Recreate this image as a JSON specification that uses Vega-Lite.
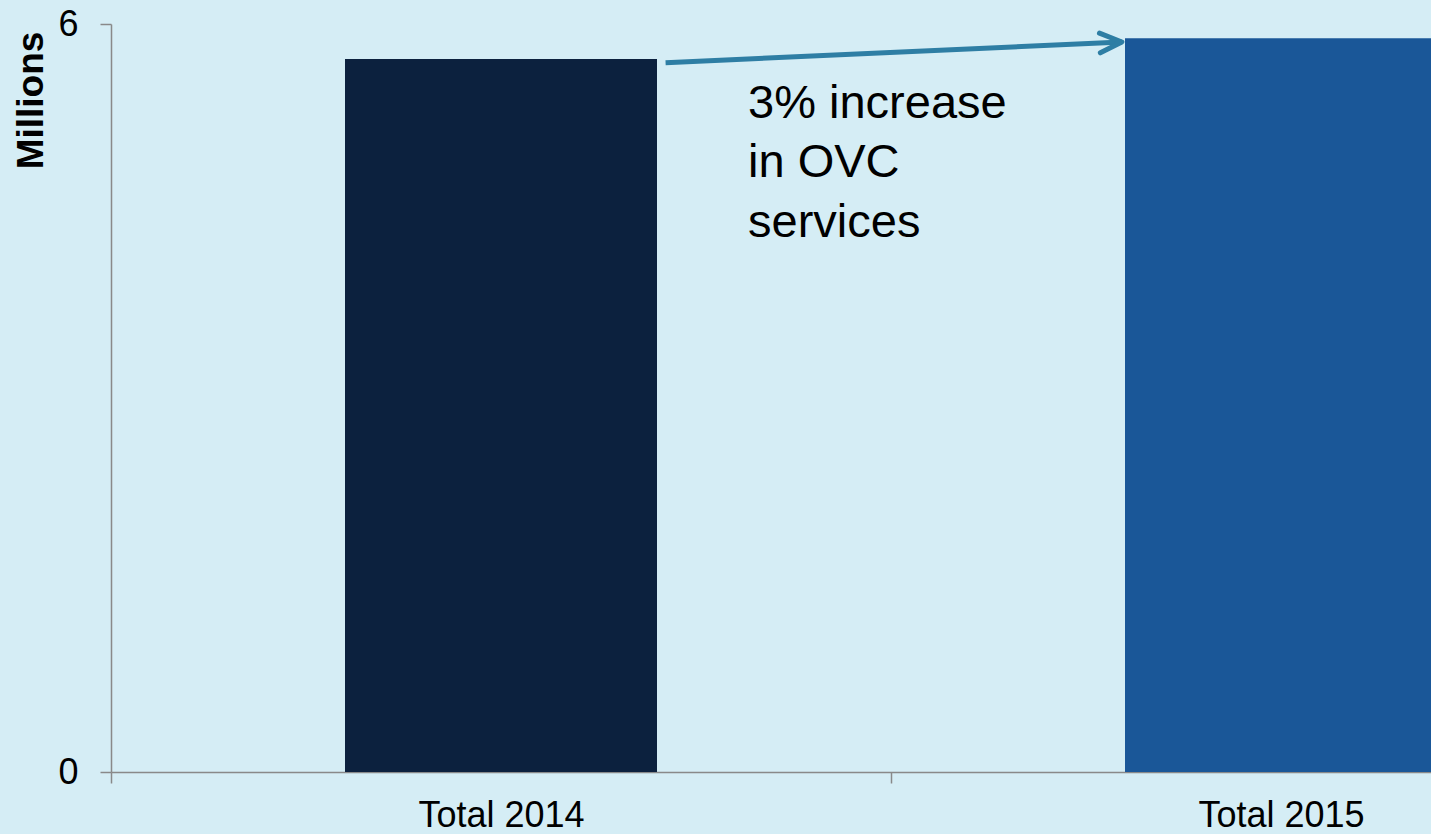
{
  "$schema": "https://vega.github.io/schema/vega-lite/v6.json",
  "width": 1320,
  "height": 748,
  "autosize": {"type": "none"},
  "padding": {"left": 111, "top": 24, "right": 0, "bottom": 62},
  "background": "#D5EDF5",
  "config": {
    "view": {"stroke": null},
    "font": "Liberation Sans",
    "axisY": {
      "grid": false, "format": "d",
      "labelFontSize": 36, "labelFont": "Liberation Sans", "labelColor": "#000000",
      "labelPadding": 22, "tickSize": 11, "tickColor": "#898989", "tickWidth": 1.5,
      "domainColor": "#898989", "domainWidth": 1.5,
      "titleFont": "Liberation Sans", "titleFontSize": 37, "titleFontWeight": "bold",
      "titleColor": "#000000", "titleAngle": -90, "titleX": -69, "titleY": 76,
      "titleAlign": "center", "titleBaseline": "alphabetic"
    }
  },
  "layer": [
    {
      "data": {"values": [
        {"category": "Total 2014", "value": 5.72},
        {"category": "Total 2015", "value": 5.885}
      ]},
      "mark": {"type": "bar", "width": {"band": 0.4}},
      "encoding": {
        "x": {
          "field": "category", "type": "nominal", "sort": null,
          "scale": {"type": "band", "range": [0, 1560], "paddingInner": 0, "paddingOuter": 0},
          "axis": {
            "title": null, "labelAngle": 0, "labelFontSize": 36, "labelFont": "Liberation Sans",
            "labelColor": "#000000", "labelPadding": 15, "tickBand": "extent", "tickSize": 11,
            "tickColor": "#898989", "tickWidth": 1.5, "domainColor": "#898989", "domainWidth": 1.5,
            "labelOverlap": false
          }
        },
        "y": {
          "field": "value", "type": "quantitative", "title": "Millions",
          "scale": {"domain": [0, 6], "nice": false, "zero": true},
          "axis": {"values": [0, 6], "format": "d", "titleX": -69, "titleY": 76, "labelFontSize": 36, "labelPadding": 22, "titleFontSize": 37}
        },
        "color": {
          "field": "category", "type": "nominal",
          "scale": {"domain": ["Total 2014", "Total 2015"], "range": ["#0C213E", "#1A5798"]},
          "legend": null
        }
      }
    },
    {
      "layer": [
        {
          "data": {"values": [{"x0": 0.711, "y0": 5.69, "x1": 1.296, "y1": 5.856}]},
          "mark": {"type": "rule", "color": "#2E7EA4", "strokeWidth": 5},
          "encoding": {
            "x": {"field": "x0", "type": "quantitative", "scale": {"domain": [0, 2], "range": [0, 1560], "nice": false, "zero": false}, "axis": null},
            "x2": {"field": "x1"},
            "y": {"field": "y0", "type": "quantitative", "title": "Millions",
                  "axis": {"values": [0, 6], "format": "d", "titleX": -69, "titleY": 76, "labelFontSize": 36, "labelPadding": 22, "titleFontSize": 37}},
            "y2": {"field": "y1"}
          }
        },
        {
          "data": {"values": [{"x1": 1.296, "y1": 5.856}]},
          "mark": {
            "type": "point", "shape": "M-1,-0.45L0,0L-1,0.45", "filled": false,
            "stroke": "#2E7EA4", "strokeWidth": 5, "strokeCap": "round", "strokeJoin": "round",
            "size": 1936, "angle": -2.6, "opacity": 1
          },
          "encoding": {
            "x": {"field": "x1", "type": "quantitative", "axis": null},
            "y": {"field": "y1", "type": "quantitative", "title": "Millions",
                  "axis": {"values": [0, 6], "format": "d", "titleX": -69, "titleY": 76, "labelFontSize": 36, "labelPadding": 22, "titleFontSize": 37}}
          }
        },
        {
          "data": {"values": [
            {"line": "3% increase", "xp": 0.8167, "yp": 5.246},
            {"line": "in OVC", "xp": 0.8167, "yp": 4.773},
            {"line": "services", "xp": 0.8167, "yp": 4.291}
          ]},
          "mark": {"type": "text", "align": "left", "baseline": "alphabetic", "fontSize": 47, "font": "Liberation Sans", "color": "#000000"},
          "encoding": {
            "x": {"field": "xp", "type": "quantitative", "axis": null},
            "y": {"field": "yp", "type": "quantitative", "title": "Millions",
                  "axis": {"values": [0, 6], "format": "d", "titleX": -69, "titleY": 76, "labelFontSize": 36, "labelPadding": 22, "titleFontSize": 37}},
            "text": {"field": "line", "type": "nominal"}
          }
        }
      ]
    }
  ],
  "resolve": {"scale": {"x": "independent"}}
}
